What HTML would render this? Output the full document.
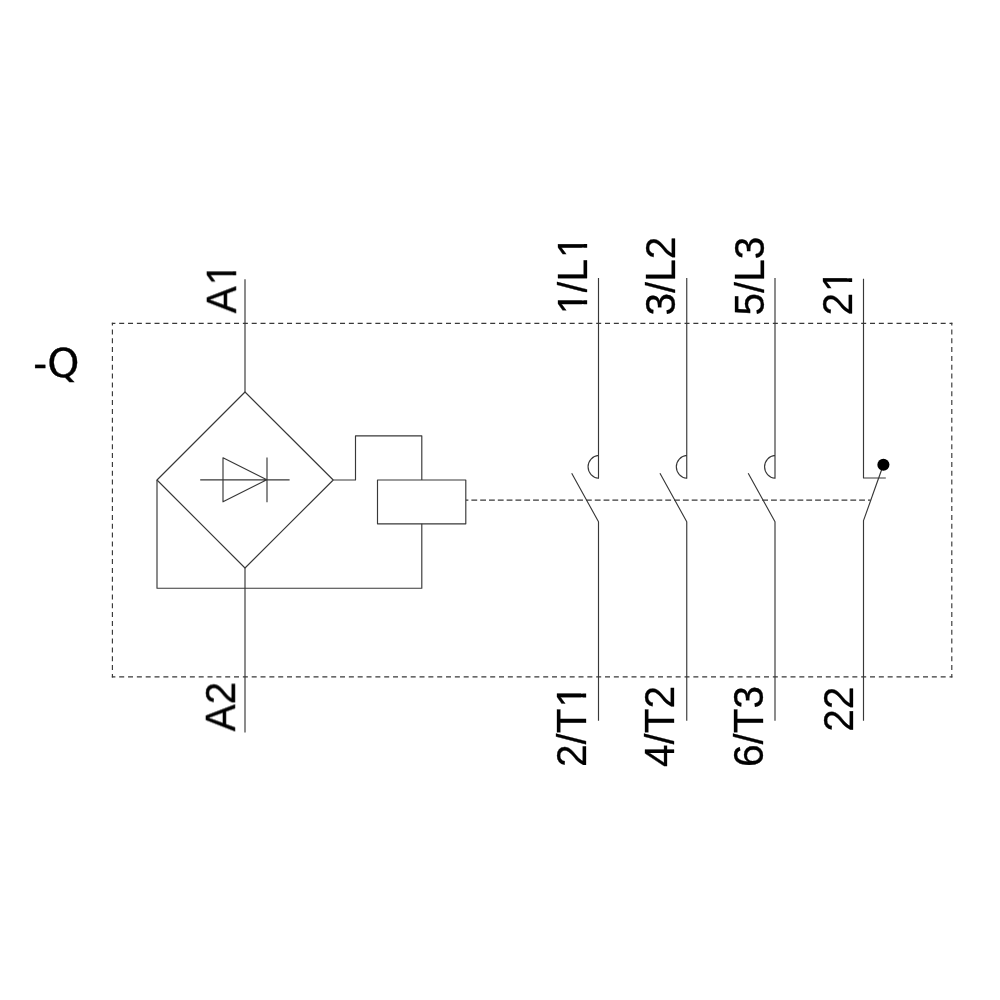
<!DOCTYPE html>
<html>
<head>
<meta charset="utf-8">
<title>-Q</title>
<style>
html,body{margin:0;padding:0;background:#fff;}
svg{display:block;}
text{font-family:"Liberation Sans",Arial,sans-serif;font-size:40.5px;fill:#000;stroke:#000;stroke-width:0.3px;font-kerning:none;}
.s{font-size:38.4px;}
.q{font-family:"DejaVu Sans","Liberation Sans",sans-serif;font-size:39.7px;}
.l{fill:none;stroke:#383838;stroke-width:1.15;stroke-linejoin:round;}
.d{fill:none;stroke:#383838;stroke-width:1.15;stroke-dasharray:5 3.833;}
.m{fill:none;stroke:#3a3a3a;stroke-width:1.25;stroke-dasharray:5.82 2.993;stroke-dashoffset:3.43;}
.w{fill:#fff;stroke:none;}
</style>
</head>
<body>
<svg width="1000" height="1000" viewBox="0 0 1000 1000">
<rect width="1000" height="1000" fill="#fff"/>
<!-- labels -->
<g opacity="0.999">
<text transform="translate(33.3 377.1) scale(1.03 1)" x="0 13.6" y="0">-<tspan class="q">Q</tspan></text>
<g transform="translate(236.40 313.30) rotate(-90) scale(1 1.040)">
<text x="0.00 28.01" y="0">A1</text>
<path class="w" d="M29.71 -4.7H38.05V1.3H29.71ZM41.93 -4.7H49.91V1.3H41.93Z"/>
</g>
<g transform="translate(235.40 731.40) rotate(-90) scale(1 1.040)">
<text x="0.00 27.01" y="0">A2</text>
</g>
<g transform="translate(586.70 315.20) rotate(-90) scale(1 1.040)">
<text x="1.00 22.81 33.78 57.30" y="0">1<tspan class="s">/</tspan>L1</text>
<path class="w" d="M2.70 -4.7H11.03V1.3H2.70ZM14.91 -4.7H22.90V1.3H14.91Z"/>
<path class="w" d="M59.00 -4.7H67.33V1.3H59.00ZM71.21 -4.7H79.20V1.3H71.21Z"/>
</g>
<g transform="translate(675.20 315.60) rotate(-90) scale(1 1.040)">
<text x="0.00 22.81 33.78 56.30" y="0">3<tspan class="s">/</tspan>L2</text>
</g>
<g transform="translate(763.60 315.60) rotate(-90) scale(1 1.040)">
<text x="0.00 22.81 33.78 56.30" y="0">5<tspan class="s">/</tspan>L3</text>
</g>
<g transform="translate(851.80 315.60) rotate(-90) scale(1 1.040)">
<text x="0.00 23.52" y="0">21</text>
<path class="w" d="M25.22 -4.7H33.56V1.3H25.22ZM37.44 -4.7H45.42V1.3H37.44Z"/>
</g>
<g transform="translate(586.00 767.04) rotate(-90) scale(1 1.040)">
<text x="0.00 22.81 33.78 59.52" y="0">2<tspan class="s">/</tspan>T1</text>
<path class="w" d="M61.22 -4.7H69.55V1.3H61.22ZM73.43 -4.7H81.42V1.3H73.43Z"/>
</g>
<g transform="translate(674.00 767.04) rotate(-90) scale(1 1.040)">
<text x="0.00 22.81 33.78 58.52" y="0">4<tspan class="s">/</tspan>T2</text>
</g>
<g transform="translate(762.60 767.04) rotate(-90) scale(1 1.040)">
<text x="0.00 22.81 33.78 58.52" y="0">6<tspan class="s">/</tspan>T3</text>
</g>
<g transform="translate(852.60 731.65) rotate(-90) scale(1 1.040)">
<text x="0.00 22.52" y="0">22</text>
</g>
</g>
<!-- dashed frame -->
<path class="d" stroke-dashoffset="1.45" d="M111.82 323.4H952.38M111.82 676.8H952.38"/>
<path class="d" stroke-dashoffset="2.25" d="M112.4 322.82V677.38M951.8 322.82V677.38"/>
<!-- A1/A2 + rectifier -->
<path class="l" d="M245 279.2V392M245 568V732.4"/>
<path class="l" d="M245 392L333.2 480L245 568L157 480Z"/>
<path class="l" d="M157 480V588.2H421.8V523.8"/>
<path class="l" d="M333.2 480H355.5V435.8H421.8V480"/>
<rect class="l" x="377.5" y="480" width="88.3" height="43.8"/>
<!-- diode -->
<path class="l" d="M200.2 479.8H289.6M223 457.8V501.8L266.8 479.8ZM267 457.4V502.2"/>
<!-- linkage -->
<path class="m" d="M466 500.2H870.5"/>
<!-- main contacts -->
<g class="l">
<path d="M598.5 278V478.3A11.5 11.5 0 0 1 598.5 455.4M571.7 473.3L598.5 521.7V720.8"/>
<path d="M686.75 278V478.3A11.5 11.5 0 0 1 686.75 455.4M659.95 473.3L686.75 521.7V720.8"/>
<path d="M775 278V478.3A11.5 11.5 0 0 1 775 455.4M748.2 473.3L775 521.7V720.8"/>
<path d="M863.5 278.8V478H885.8M883.4 464.8L863.5 520.6V720.8"/>
</g>
<circle cx="883.4" cy="464.8" r="6.05" fill="#000"/>
</svg>
</body>
</html>
